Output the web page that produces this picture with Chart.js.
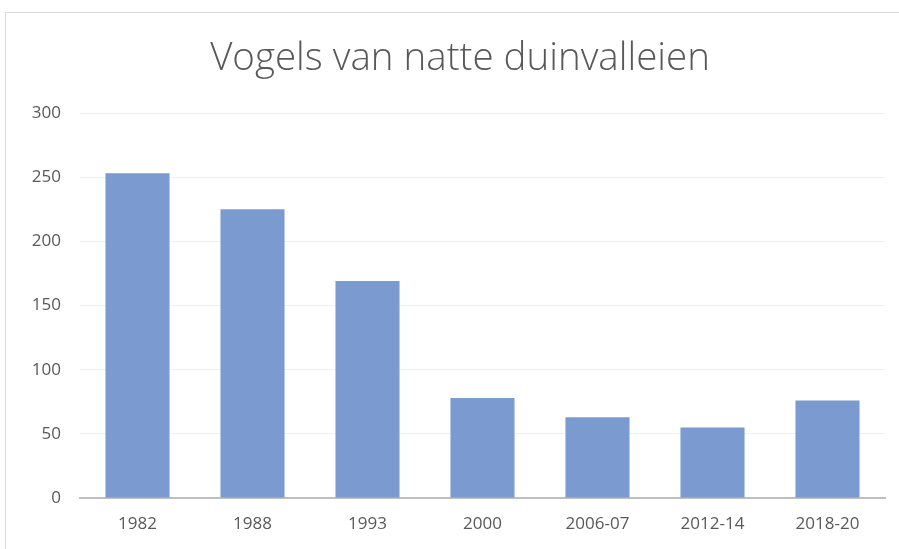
<!DOCTYPE html>
<html>
<head>
<meta charset="utf-8">
<script src="https://cdn.jsdelivr.net/npm/chart.js@4.4.1/dist/chart.umd.min.js"></script>
<style>
  html, body { margin: 0; padding: 0; background: #ffffff; }
  #wrap { position: relative; width: 899px; height: 549px; overflow: hidden; }
  #frame { position: absolute; left: 5px; top: 12px; width: 900px; height: 560px; border: 1px solid #d9d9d9; box-sizing: border-box; }
  canvas { position: absolute; left: 0; top: 0; }
</style>
</head>
<body>
<div id="wrap">
  <div id="frame"></div>
  <canvas id="c" width="899" height="549"></canvas>
</div>
<script>
const titleText = "Vogels van natte duinvalleien";
const categories = ["1982", "1988", "1993", "2000", "2006-07", "2012-14", "2018-20"];
const birdCounts = [253, 225, 169, 78, 63, 55, 76];
const yTicks = [0, 50, 100, 150, 200, 250, 300];

const fontFamily = "'Open Sans', 'Liberation Sans', sans-serif";

const titlePlugin = {
  id: 'offsetTitle',
  afterDraw(chart) {
    const ctx = chart.ctx;
    ctx.save();
    ctx.fillStyle = '#595959';
    ctx.font = '300 38.5px ' + fontFamily;
    ctx.textAlign = 'center';
    ctx.textBaseline = 'middle';
    ctx.fillText(titleText, 460, 59);
    ctx.restore();
  }
};

new Chart(document.getElementById('c'), {
  type: 'bar',
  data: {
    labels: categories,
    datasets: [{
      data: birdCounts,
      backgroundColor: '#7a9ad0',
      borderWidth: 0,
      categoryPercentage: 1.0,
      barPercentage: 0.557
    }]
  },
  options: {
    responsive: false,
    animation: false,
    devicePixelRatio: 1,
    layout: { padding: { left: 0, right: 14, top: 113, bottom: 0 } },
    plugins: {
      legend: { display: false },
      tooltip: { enabled: false },
      title: { display: false }
    },
    scales: {
      x: {
        grid: { display: false, drawTicks: false },
        border: { display: true, color: '#bfbfbf', width: 2 },
        ticks: { color: '#595959', font: { family: fontFamily, size: 17 }, padding: 16, maxRotation: 0 },
        afterFit: (s) => { s.height = 51; }
      },
      y: {
        min: 0,
        max: 300,
        afterBuildTicks: (s) => { s.ticks = yTicks.map(v => ({ value: v })); },
        grid: { color: '#efefef', lineWidth: 1, drawTicks: false },
        border: { display: false },
        ticks: { color: '#595959', font: { family: fontFamily, size: 17 }, padding: 19 },
        afterFit: (s) => { s.width = 80; }
      }
    }
  },
  plugins: [titlePlugin]
});
</script>
</body>
</html>
